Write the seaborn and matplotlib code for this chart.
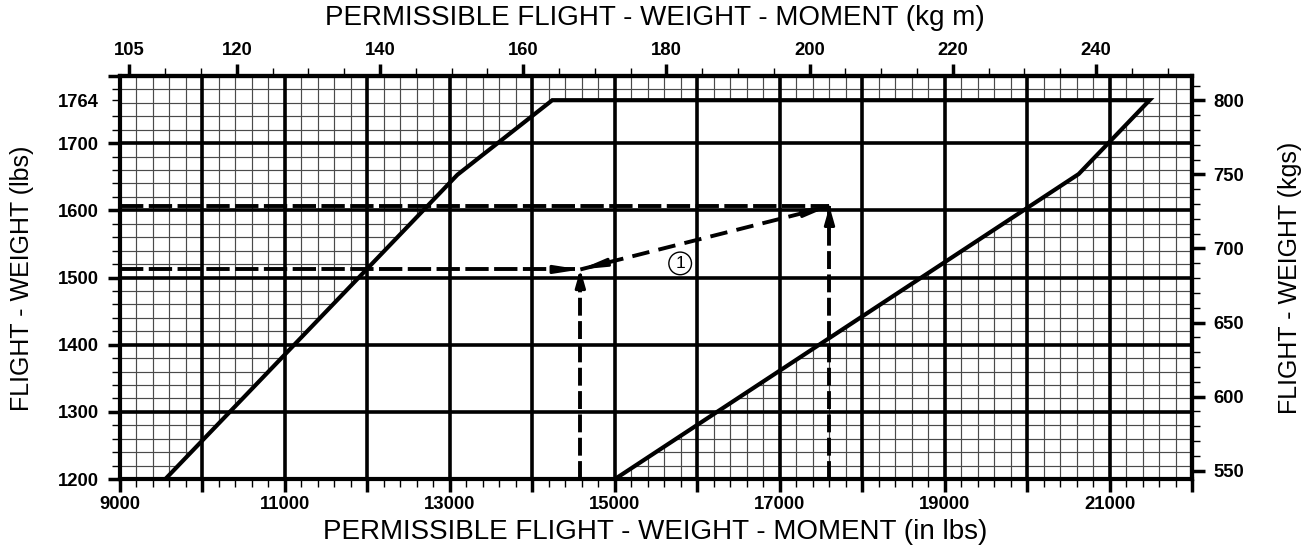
import numpy as np
import pandas as pd
import matplotlib
matplotlib.use("Agg")
import matplotlib.pyplot as plt
import seaborn as sns

# Weight-and-balance envelope (moment in in-lbs, weight in lbs)
env_moment = [9550, 13090, 14240, 21480, 20620, 15000]
env_weight = [1200, 1653, 1764, 1764, 1654, 1200]

# Worked example: loaded point (1) and point after change
ex_moment = [14580, 17600]
ex_weight = [1512, 1606]

# Axis tick values
x_major = list(range(9000, 22001, 1000))
x_labels = [str(v) if (v // 1000) % 2 == 1 and v <= 21000 else "" for v in x_major]
y_major = list(range(1200, 1801, 100))
y_labels = [str(v) if v <= 1700 else "" for v in y_major]
y_extra = 1764
top_major = [105, 120, 140, 160, 180, 200, 220, 240]
right_major = [550, 600, 650, 700, 750, 800]

INLB_PER_KGM = 2.20462 * 39.3701
LB_PER_KG = 2.20462

TICK_FS = 13.3
LABEL_FS = 20

sns.set_theme(style="white")
plt.rcParams["font.family"] = ["Liberation Sans", "DejaVu Sans"]
plt.rcParams["text.color"] = "black"
plt.rcParams["xtick.color"] = "black"
plt.rcParams["ytick.color"] = "black"
plt.rcParams["xtick.labelcolor"] = "black"
plt.rcParams["ytick.labelcolor"] = "black"

fig = plt.figure(figsize=(13.1, 5.52), dpi=100)
ax = fig.add_axes([0.0916, 0.1322, 0.8187, 0.7301])
ax.set_xlim(9000, 22000)
ax.set_ylim(1200, 1800)

# Fine grid
for xv in np.arange(9000, 22001, 200):
    ax.axvline(xv, color="#4a4a4a", lw=0.85, zorder=0.5)
for yv in np.arange(1200, 1801, 20):
    ax.axhline(yv, color="#4a4a4a", lw=0.85, zorder=0.5)

# Envelope interior blanks out the fine grid
ax.fill(env_moment, env_weight, color="white", zorder=1, lw=0)

# Heavy grid
for xv in x_major:
    ax.axvline(xv, color="black", lw=2.6, zorder=2)
for yv in y_major:
    ax.axhline(yv, color="black", lw=2.6, zorder=2)

# Envelope outline
env = pd.DataFrame({"moment": env_moment, "weight": env_weight})
sns.lineplot(data=env, x="moment", y="weight", sort=False, estimator=None,
             color="black", lw=3.0, ax=ax, zorder=4,
             solid_joinstyle="miter", solid_capstyle="butt")

# Example reading lines
dash_kw = dict(color="black", lw=2.8, zorder=5, dash_capstyle="butt")
for m, w in zip(ex_moment, ex_weight):
    ax.plot([9000, m], [w, w], dashes=(6.0, 1.4), **dash_kw)
    ax.plot([m, m], [1200, w], dashes=(4.6, 1.4), **dash_kw)
ax.plot(ex_moment, ex_weight, dashes=(4.5, 2.4), **dash_kw)


def head(tip, frm, length_pt, hl, hw):
    p1 = ax.transData.transform(tip)
    p0 = ax.transData.transform(frm)
    d = p1 - p0
    d = d / np.hypot(*d)
    off = -d * length_pt
    ax.annotate("", xy=tip, xytext=(off[0], off[1]), textcoords="offset points",
                arrowprops=dict(arrowstyle=f"-|>,head_length={hl},head_width={hw}",
                                color="black", lw=2.2, shrinkA=0, shrinkB=0,
                                mutation_scale=10),
                zorder=6)


p_a = (ex_moment[0], ex_weight[0])
p_b = (ex_moment[1], ex_weight[1])
head(p_a, (9000, ex_weight[0]), 15, 1.4, 0.22)
head(p_a, (ex_moment[0], 1200), 12, 1.05, 0.3)
head(p_a, p_b, 15, 1.4, 0.22)
head(p_b, p_a, 15, 1.4, 0.22)
head(p_b, (ex_moment[1], 1200), 12, 1.05, 0.3)

ax.text(15790, 1521, "1", ha="center", va="center", fontsize=12.5, zorder=7,
        bbox=dict(boxstyle="circle,pad=0.22", fc="white", ec="black", lw=1.0))

# Bottom / left axes
ax.set_xticks(x_major)
ax.set_xticklabels(x_labels, fontweight="bold", fontsize=TICK_FS)
ax.set_xticks(np.arange(9000, 22001, 200), minor=True)
ax.set_yticks(y_major)
ax.set_yticklabels(y_labels, fontweight="bold", fontsize=TICK_FS)
y_minor = [v for v in range(1220, 1800, 20) if v != 1760] + [y_extra]
ax.set_yticks(y_minor, minor=True)
ax.set_yticklabels([str(y_extra) if v == y_extra else "" for v in y_minor],
                   minor=True, fontweight="bold", fontsize=TICK_FS)
ax.set_xlabel("")
ax.set_ylabel("")

for sp in ax.spines.values():
    sp.set_visible(True)
    sp.set_linewidth(3.0)
    sp.set_color("black")
    sp.set_zorder(8)

ax.tick_params(which="major", direction="out", length=9, width=2.5, color="black",
               bottom=True, left=True, top=False, right=False, pad=3)
ax.tick_params(which="minor", direction="out", length=6, width=1.0, color="black",
               bottom=True, left=True, top=False, right=False)
ax.tick_params(axis="y", which="major", pad=6)
ax.tick_params(axis="y", which="minor", pad=9)
ax.tick_params(axis="x", which="major", pad=3)

# Top axis: kg m
top = ax.secondary_xaxis("top", functions=(lambda v: v / INLB_PER_KGM,
                                           lambda v: v * INLB_PER_KGM))
top.set_xticks(top_major)
top.set_xticklabels([str(v) for v in top_major], fontweight="bold", fontsize=TICK_FS)
top.set_xticks(np.arange(105, 251, 5), minor=True)
top.tick_params(which="major", direction="out", length=9, width=2.5, pad=3.5,
                color="black", labelcolor="black")
top.tick_params(which="minor", direction="out", length=5.5, width=1.0, color="black")
top.spines["top"].set_linewidth(3.0)
top.spines["top"].set_color("black")

# Right axis: kg
right = ax.secondary_yaxis("right", functions=(lambda v: v / LB_PER_KG,
                                               lambda v: v * LB_PER_KG))
right.set_yticks(right_major)
right.set_yticklabels([str(v) for v in right_major], fontweight="bold", fontsize=TICK_FS)
right.set_yticks(np.arange(550, 811, 10), minor=True)
right.tick_params(which="major", direction="out", length=9, width=2.5, pad=6,
                  color="black", labelcolor="black")
right.tick_params(which="minor", direction="out", length=5.5, width=1.0, color="black")
right.spines["right"].set_linewidth(3.0)
right.spines["right"].set_color("black")

fig.text(0.5, 1 - 18 / 552, "PERMISSIBLE FLIGHT - WEIGHT - MOMENT (kg m)",
         ha="center", va="center", fontsize=LABEL_FS, color="black")
fig.text(0.5, 1 - 532 / 552, "PERMISSIBLE FLIGHT - WEIGHT - MOMENT (in lbs)",
         ha="center", va="center", fontsize=LABEL_FS, color="black")
fig.text(22 / 1310, 1 - 278 / 552, "FLIGHT - WEIGHT (lbs)", rotation=90,
         ha="center", va="center", fontsize=18, color="black")
fig.text(1290 / 1310, 1 - 278 / 552, "FLIGHT - WEIGHT (kgs)", rotation=90,
         ha="center", va="center", fontsize=18, color="black")

fig.savefig("out.png", dpi=100, facecolor="white")
